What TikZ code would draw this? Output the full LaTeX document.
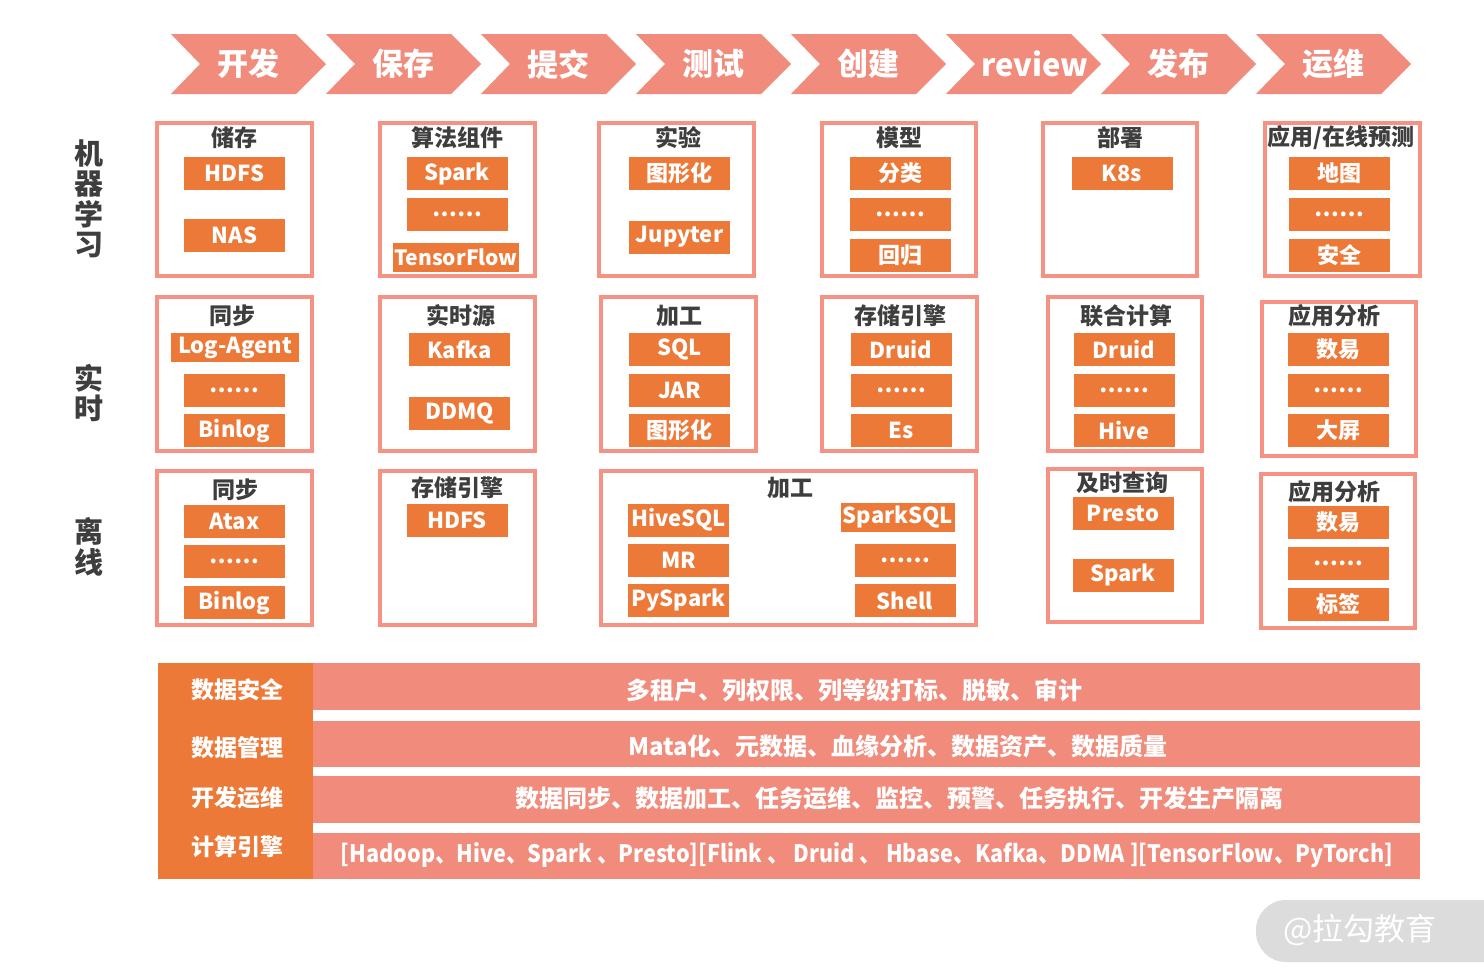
\documentclass[tikz,border=0pt]{standalone}
\usepackage{graphicx}
\usepackage{fontspec}
\setmainfont{Noto Sans CJK SC}
\newfontfamily\medf{Noto Sans CJK SC Medium}
\definecolor{salmon}{RGB}{241,139,124}
\definecolor{salmonB}{RGB}{245,146,132}
\definecolor{orangeC}{RGB}{237,121,56}
\definecolor{darkT}{RGB}{62,62,62}
\definecolor{wmgray}{RGB}{220,220,220}
\tikzset{
  chev/.style={text=white,font=\bfseries\fontsize{31}{33}\selectfont,inner sep=0pt},
  cont/.style={draw=salmonB,line width=4pt,inner sep=0pt,outer sep=0pt,anchor=north west},
  item/.style={fill=orangeC,text=white,font=\bfseries\fontsize{22}{24}\selectfont,minimum width=101pt,minimum height=33pt,inner sep=0pt},
  ttl/.style={text=darkT,font=\bfseries\fontsize{23}{25}\selectfont,inner sep=0pt},
  side/.style={text=darkT,font=\bfseries\fontsize{29}{30.5}\selectfont,align=center,inner sep=0pt},
  bar/.style={fill=salmon,anchor=north west,minimum width=1107pt,inner sep=0pt},
  bartxt/.style={text=white,font=\bfseries\fontsize{24}{26}\selectfont,inner sep=0pt},
  lbl/.style={text=white,font=\bfseries\fontsize{23}{25}\selectfont,inner sep=0pt}
}
\begin{document}
\begin{tikzpicture}[x=1pt,y=-1pt]
\useasboundingbox (0,0) rectangle (1484,978);
\fill[white] (0,0) rectangle (1484,978);

% chevrons
\foreach \i/\t/\dx in {0/开发/0,1/保存/0,2/提交/0,3/测试/0,4/创建/0,5/review/11,6/发布/0,7/运维/0}{
  \pgfmathsetmacro\xx{171+155*\i}
  \fill[salmon] (\xx,34) -- ++(125,0) -- ++(30,30) -- ++(-30,30) -- ++(-125,0) -- ++(29,-30) -- cycle;
  \node[chev] (ch\i) at (\xx+77.5+\dx,64) {\t};
}

% side labels
\node[side] (sML) at (89,199) {机\\器\\学\\习};
\node[side] (sRT) at (89,393) {实\\时};
\node[side] (sOF) at (89,547) {离\\线};

% ---------- row 1: machine learning
\node[cont,minimum width=155pt,minimum height=153pt] (mlA) at (157,123) {};
\node[cont,minimum width=155pt,minimum height=153pt] (mlB) at (380,123) {};
\node[cont,minimum width=155pt,minimum height=153pt] (mlC) at (599,123) {};
\node[cont,minimum width=154pt,minimum height=153pt] (mlD) at (822,123) {};
\node[cont,minimum width=154pt,minimum height=153pt] (mlE) at (1043,123) {};
\node[cont,minimum width=155pt,minimum height=153pt] (mlF) at (1265,123) {};

\node[ttl] (mlAt) at (234.5,138) {储存};
\node[item] (mlA1) at (234.5,173.5) {HDFS};
\node[item] (mlA2) at (234.5,235) {NAS};

\node[ttl] (mlBt) at (457,138) {算法组件};
\node[item] (mlB1) at (457,173.5) {Spark};
\node[item] (mlB2) at (457,214) {……};
\node[item,minimum width=126pt,minimum height=29pt,font=\bfseries\fontsize{21}{23}\selectfont] (mlB3) at (456,257.5) {TensorFlow};

\node[ttl] (mlCt) at (678,138) {实验};
\node[item] (mlC1) at (679.5,173.5) {图形化};
\node[item] (mlC2) at (679.5,237) {Jupyter};

\node[ttl] (mlDt) at (899,138) {模型};
\node[item] (mlD1) at (900.5,173.5) {分类};
\node[item] (mlD2) at (900.5,214) {……};
\node[item] (mlD3) at (900.5,255) {回归};

\node[ttl] (mlEt) at (1120,138) {部署};
\node[item] (mlE1) at (1122,173.5) {K8s};

\node[ttl] (mlFt) at (1341,138) {应用/在线预测};
\node[item] (mlF1) at (1339,173.5) {地图};
\node[item] (mlF2) at (1339,214) {……};
\node[item] (mlF3) at (1339,255) {安全};

% ---------- row 2: real time
\node[cont,minimum width=155pt,minimum height=154pt] (rtA) at (157,297) {};
\node[cont,minimum width=155pt,minimum height=154pt] (rtB) at (380,297) {};
\node[cont,minimum width=155pt,minimum height=154pt] (rtC) at (601,297) {};
\node[cont,minimum width=155pt,minimum height=154pt] (rtD) at (822,297) {};
\node[cont,minimum width=154pt,minimum height=154pt] (rtE) at (1048,297) {};
\node[cont,minimum width=154pt,minimum height=154pt] (rtF) at (1262,302) {};

\node[ttl] (rtAt) at (232,316) {同步};
\node[item,minimum width=128pt,minimum height=29pt] (rtA1) at (235,347.5) {Log-Agent};
\node[item] (rtA2) at (234.5,390) {……};
\node[item] (rtA3) at (234.5,430.5) {Binlog};

\node[ttl] (rtBt) at (461,316) {实时源};
\node[item] (rtB1) at (459.5,349.5) {Kafka};
\node[item] (rtB2) at (459.5,413) {DDMQ};

\node[ttl] (rtCt) at (679,316) {加工};
\node[item] (rtC1) at (679.5,349.5) {SQL};
\node[item] (rtC2) at (679.5,390) {JAR};
\node[item] (rtC3) at (679.5,430.5) {图形化};

\node[ttl] (rtDt) at (900,316) {存储引擎};
\node[item] (rtD1) at (901,349.5) {Druid};
\node[item] (rtD2) at (901,390) {……};
\node[item] (rtD3) at (901,430.5) {Es};

\node[ttl] (rtEt) at (1126,316) {联合计算};
\node[item] (rtE1) at (1124,349.5) {Druid};
\node[item] (rtE2) at (1124,390) {……};
\node[item] (rtE3) at (1124,430.5) {Hive};

\node[ttl] (rtFt) at (1334,316) {应用分析};
\node[item] (rtF1) at (1338.5,349.5) {数易};
\node[item] (rtF2) at (1338.5,390) {……};
\node[item] (rtF3) at (1338.5,430.5) {大屏};

% ---------- row 3: offline
\node[cont,minimum width=155pt,minimum height=154pt] (ofA) at (157,471) {};
\node[cont,minimum width=155pt,minimum height=154pt] (ofB) at (380,471) {};
\node[cont,minimum width=375pt,minimum height=154pt] (ofC) at (601,471) {};
\node[cont,minimum width=154pt,minimum height=153pt] (ofD) at (1048,469) {};
\node[cont,minimum width=154pt,minimum height=154pt] (ofF) at (1261,474) {};

\node[ttl] (ofAt) at (235,490) {同步};
\node[item] (ofA1) at (234.5,521) {Atax};
\node[item] (ofA2) at (234.5,561.5) {……};
\node[item] (ofA3) at (234.5,602.5) {Binlog};

\node[ttl] (ofBt) at (457,488) {存储引擎};
\node[item] (ofB1) at (457,520) {HDFS};

\node[ttl] (ofCt) at (790,488) {加工};
\node[item] (ofC1) at (678.5,520) {HiveSQL};
\node[item] (ofC2) at (678.5,560) {MR};
\node[item] (ofC3) at (678.5,600.5) {PySpark};
\node[item,minimum width=114pt,minimum height=29pt] (ofC4) at (898,517) {SparkSQL};
\node[item] (ofC5) at (905,560) {……};
\node[item] (ofC6) at (905,600.5) {Shell};

\node[ttl] (ofDt) at (1122,483) {及时查询};
\node[item] (ofD1) at (1123,513) {Presto};
\node[item] (ofD2) at (1123,575) {Spark};

\node[ttl] (ofFt) at (1334,492) {应用分析};
\node[item] (ofF1) at (1338.5,522.5) {数易};
\node[item] (ofF2) at (1338.5,563) {……};
\node[item] (ofF3) at (1338.5,604) {标签};

% ---------- bottom layers
\node[fill=orangeC,anchor=north west,minimum width=155pt,minimum height=216pt,inner sep=0pt] (col) at (158,663) {};
\node[bar,minimum height=47pt] (b1) at (313,663) {};
\node[bar,minimum height=46pt] (b2) at (313,721) {};
\node[bar,minimum height=47pt] (b3) at (313,776) {};
\node[bar,minimum height=46pt] (b4) at (313,833) {};

\node[bartxt] (t1) at (854,690) {多租户、列权限、列等级打标、脱敏、审计};
\node[bartxt] (t2) at (898,746) {Mata化、元数据、血缘分析、数据资产、数据质量};
\node[bartxt] (t3) at (899,798) {数据同步、数据加工、任务运维、监控、预警、任务执行、开发生产隔离};
\node[bartxt] (t4) at (867,855) {\scalebox{0.9}[1]{[Hadoop、Hive、Spark 、Presto][Flink 、 Druid 、 Hbase、Kafka、DDMA ][TensorFlow、PyTorch]}};

\node[lbl] (l1) at (237,690) {数据安全};
\node[lbl] (l2) at (237,748) {数据管理};
\node[lbl] (l3) at (237,798) {开发运维};
\node[lbl] (l4) at (237,847) {计算引擎};

% watermark
\begin{scope}
\clip (0,0) rectangle (1484,978);
\fill[wmgray,rounded corners=30pt] (1256,900) rectangle (1530,962);
\node[text=white,font=\fontsize{31}{33}\selectfont,inner sep=0pt] (wm) at (1360,930) {@拉勾教育};
\end{scope}
\end{tikzpicture}
\end{document}
